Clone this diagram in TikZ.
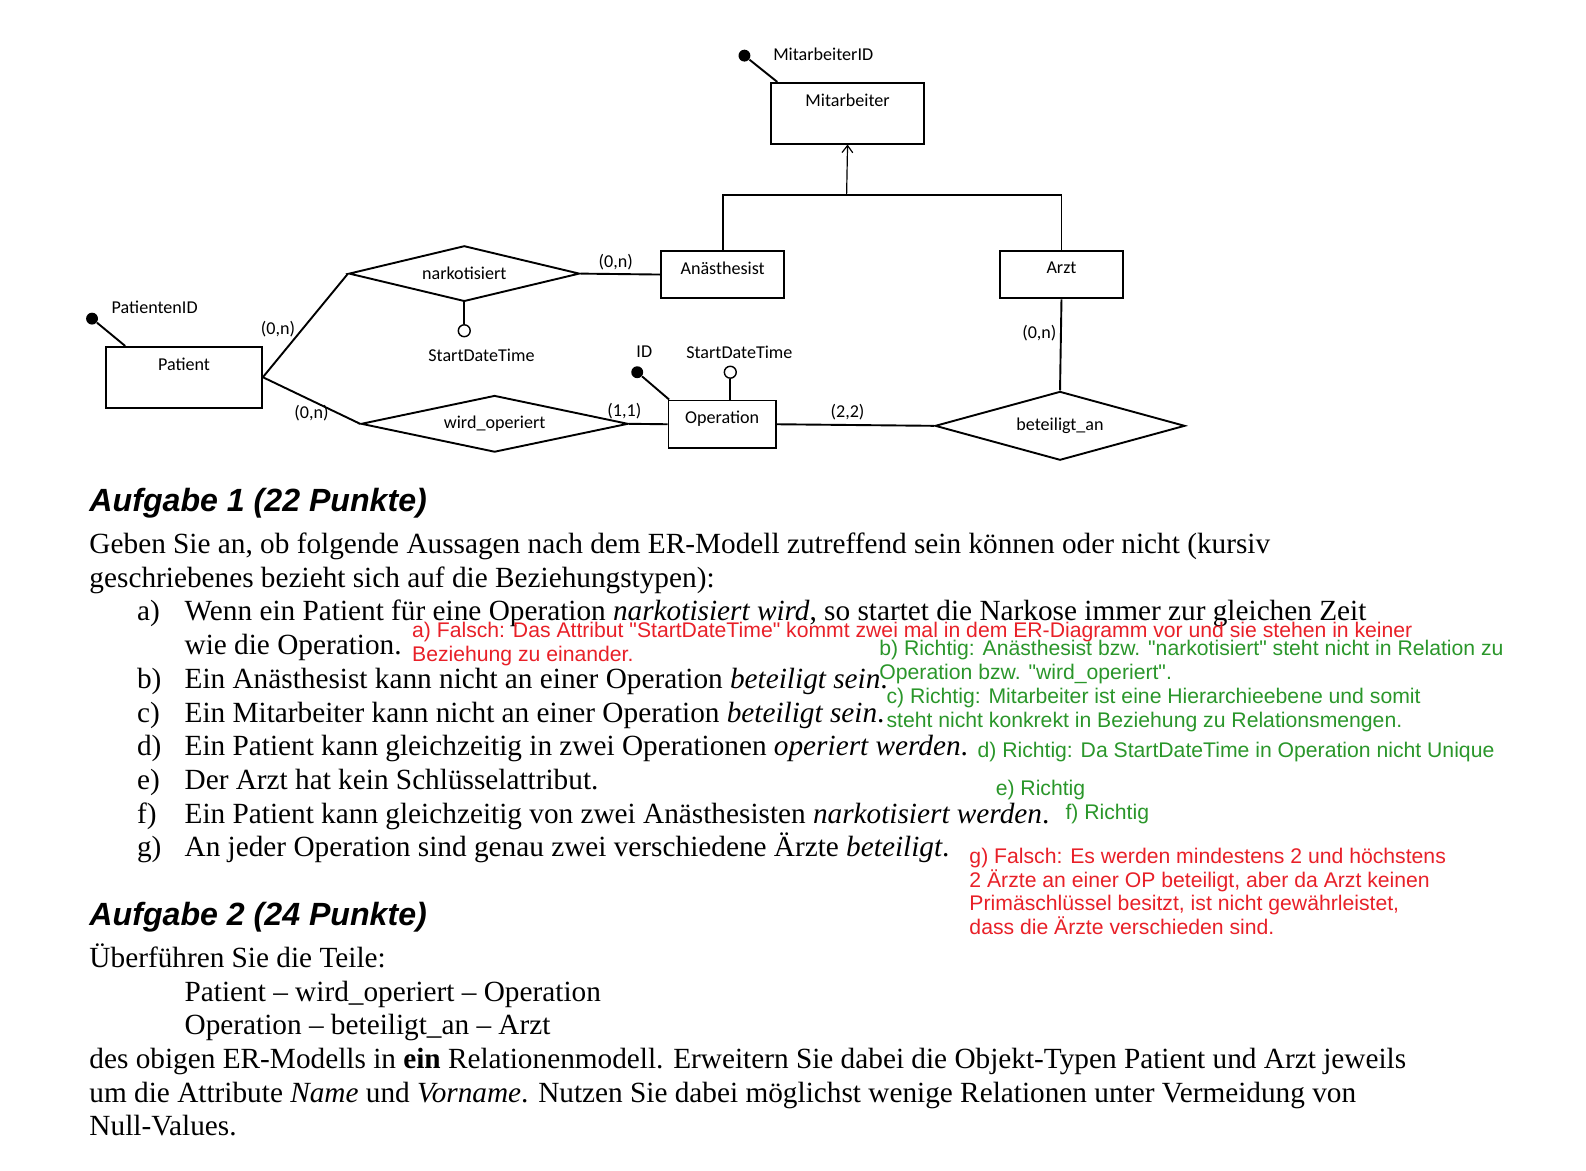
\documentclass[tikz,border=0pt]{standalone}
\usepackage{fontspec}
\setmainfont{Liberation Serif}
\setsansfont{Liberation Sans}[Ligatures=TeXOff]
\newfontfamily\erfamily{Carlito}
\usetikzlibrary{arrows.meta,positioning,shapes.geometric}
\definecolor{notered}{RGB}{232,32,40}
\definecolor{notegreen}{RGB}{42,150,42}
\newcommand\pxu{0.425pt}
\tikzset{
  boxsize/.style 2 args={minimum width=#1*\pxu,minimum height=#2*\pxu},
  entity/.style={draw,line width=0.8pt,anchor=north west,inner sep=0pt},
  ename/.style={anchor=north,font=\erfamily\fontsize{7.6}{9}\selectfont,inner sep=0pt,yshift=-4.8pt},
  relation/.style={diamond,draw,line width=0.8pt,inner sep=0pt,aspect=4,font=\erfamily\fontsize{7.6}{9}\selectfont},
  keyattr/.style={circle,fill,inner sep=0pt,minimum size=5pt},
  optattr/.style={circle,draw,fill=white,inner sep=0pt,minimum size=5pt,line width=0.6pt},
  aname/.style={font=\erfamily\fontsize{7.6}{9}\selectfont,inner sep=0pt},
  card/.style={font=\erfamily\fontsize{7.6}{9}\selectfont,inner sep=1.5pt},
  conn/.style={line width=0.8pt},
  isa/.style={line width=0.5pt,-{Straight Barb[length=3pt,width=4.5pt]}},
  heading/.style={font=\sffamily\bfseries\itshape\fontsize{13.5}{16}\selectfont,anchor=base west,inner sep=0pt},
  body/.style={font=\fontsize{12.3}{14.15}\selectfont,anchor=base west,align=left,inner sep=0pt},
  note/.style={font=\sffamily\fontsize{8.9}{10}\selectfont,anchor=base west,align=left,inner sep=0pt},
}

\begin{document}
\begin{tikzpicture}[x=\pxu,y=-\pxu]
  \useasboundingbox (0,0) rectangle (1568,1157);

  \node[entity,boxsize={152}{60},label={[ename]north:Mitarbeiter}] (mit) at (761,81) {};
  \node[entity,boxsize={121}{47},label={[ename]north:Anästhesist}] (anae) at (653,247) {};
  \node[entity,boxsize={121}{47},label={[ename]north:Arzt}] (arzt) at (988,247) {};
  \node[entity,boxsize={154}{60},label={[ename]north:Patient}] (patient) at (104,342) {};
  \node[entity,boxsize={106}{47},label={[ename]north:Operation}] (op) at (660,395) {};

  \node[relation,boxsize={228}{55}] (narko) at (459,270.5) {narkotisiert};
  \node[relation,boxsize={264}{56}] (wird) at (489,419) {wird\_operiert};
  \node[relation,boxsize={247}{68}] (bet) at (1048,421) {beteiligt\_an};

  \node[keyattr] (midot) at (736,55) {};
  \node[aname,anchor=west] (mid) at (764,54) {MitarbeiterID};
  \node[keyattr] (pidot) at (91,315) {};
  \node[aname,anchor=west] (pid) at (110,304) {PatientenID};
  \node[optattr] (ncirc) at (459,327) {};
  \node[aname] (nsdt) at (476,351) {StartDateTime};
  \node[keyattr] (oidot) at (630,368) {};
  \node[aname] (oid) at (637,348) {ID};
  \node[optattr] (ocirc) at (722,368) {};
  \node[aname] (osdt) at (731,348) {StartDateTime};

  \draw[conn] (midot) -- (mit.156);
  \draw[conn] (pidot) -- (patient.152);
  \draw[conn] (oidot) -- (op.155);
  \draw[conn] (narko.south) -- (ncirc);
  \draw[conn] (ocirc) -- (ocirc |- op.north);

  \coordinate (hub) at (837,193);
  \draw[conn] (anae.north) |- (hub) -| (arzt.north);
  \draw[isa] (hub) -- (mit.south);

  \draw[conn] (patient.east) -- node[card,pos=0.46,left,xshift=-1pt] {(0,n)} (narko.west);
  \draw[conn] (patient.east) -- node[card,midway,below] {(0,n)} (wird.west);
  \draw[conn] (narko.east) -- node[card,midway,above,xshift=-2pt] {(0,n)} (anae.west);
  \draw[conn] (wird.east) -- node[card,pos=0,above,xshift=-2pt] {(1,1)} (op.west);
  \draw[conn] (op.east) -- node[card,pos=0.45,above] {(2,2)} (bet.west);
  \draw[conn] (arzt.south) -- node[card,pos=0.37,left] {(0,n)} (bet.north);

  \node[heading] (auf1) at (88,506) {Aufgabe 1 (22 Punkte)};
  \node[body] (intro) at (88,581) {Geben Sie an, ob folgende Aussagen nach dem ER-Modell zutreffend sein können oder nicht (kursiv\\
    geschriebenes bezieht sich auf die Beziehungstypen):};
  \node[body] (items) at (135,847) {\makebox[20pt][l]{a)}Wenn ein Patient für eine Operation \textit{narkotisiert wird}, so startet die Narkose immer zur gleichen Zeit\\
    \hspace*{20pt}wie die Operation.\\
    \makebox[20pt][l]{b)}Ein Anästhesist kann nicht an einer Operation \textit{beteiligt sein}.\\
    \makebox[20pt][l]{c)}Ein Mitarbeiter kann nicht an einer Operation \textit{beteiligt sein}.\\
    \makebox[20pt][l]{d)}Ein Patient kann gleichzeitig in zwei Operationen \textit{operiert werden}.\\
    \makebox[20pt][l]{e)}Der Arzt hat kein Schlüsselattribut.\\
    \makebox[20pt][l]{f)}Ein Patient kann gleichzeitig von zwei Anästhesisten \textit{narkotisiert werden}.\\
    \makebox[20pt][l]{g)}An jeder Operation sind genau zwei verschiedene Ärzte \textit{beteiligt}.};

  \node[heading] (auf2) at (88,915) {Aufgabe 2 (24 Punkte)};
  \node[body] (task2) at (88,1123) {Überführen Sie die Teile:\\
    \hspace*{40pt}Patient -- wird\_operiert -- Operation\\
    \hspace*{40pt}Operation -- beteiligt\_an -- Arzt\\
    des obigen ER-Modells in \textbf{ein} Relationenmodell. Erweitern Sie dabei die Objekt-Typen Patient und Arzt jeweils\\
    um die Attribute \textit{Name} und \textit{Vorname}. Nutzen Sie dabei möglichst wenige Relationen unter Vermeidung von\\
    Null-Values.};

  \node[note,text=notered] (na) at (407,654) {a) Falsch: Das Attribut "StartDateTime" kommt zwei mal in dem ER-Diagramm vor und sie stehen in keiner\\
    Beziehung zu einander.};
  \node[note,text=notegreen] (nb) at (869,672) {b) Richtig: Anästhesist bzw. "narkotisiert" steht nicht in Relation zu\\
    Operation bzw. "wird\_operiert".};
  \node[note,text=notegreen] (nc) at (876,719) {c) Richtig: Mitarbeiter ist eine Hierarchieebene und somit\\
    steht nicht konkrekt in Beziehung zu Relationsmengen.};
  \node[note,text=notegreen] (nd) at (966,749) {d) Richtig: Da StartDateTime in Operation nicht Unique};
  \node[note,text=notegreen] (ne) at (984,786) {e) Richtig};
  \node[note,text=notegreen] (nf) at (1053,810) {f) Richtig};
  \node[note,text=notered] (ng) at (958,924) {g) Falsch: Es werden mindestens 2 und höchstens\\
    2 Ärzte an einer OP beteiligt, aber da Arzt keinen\\
    Primäschlüssel besitzt, ist nicht gewährleistet,\\
    dass die Ärzte verschieden sind.};
\end{tikzpicture}
\end{document}
